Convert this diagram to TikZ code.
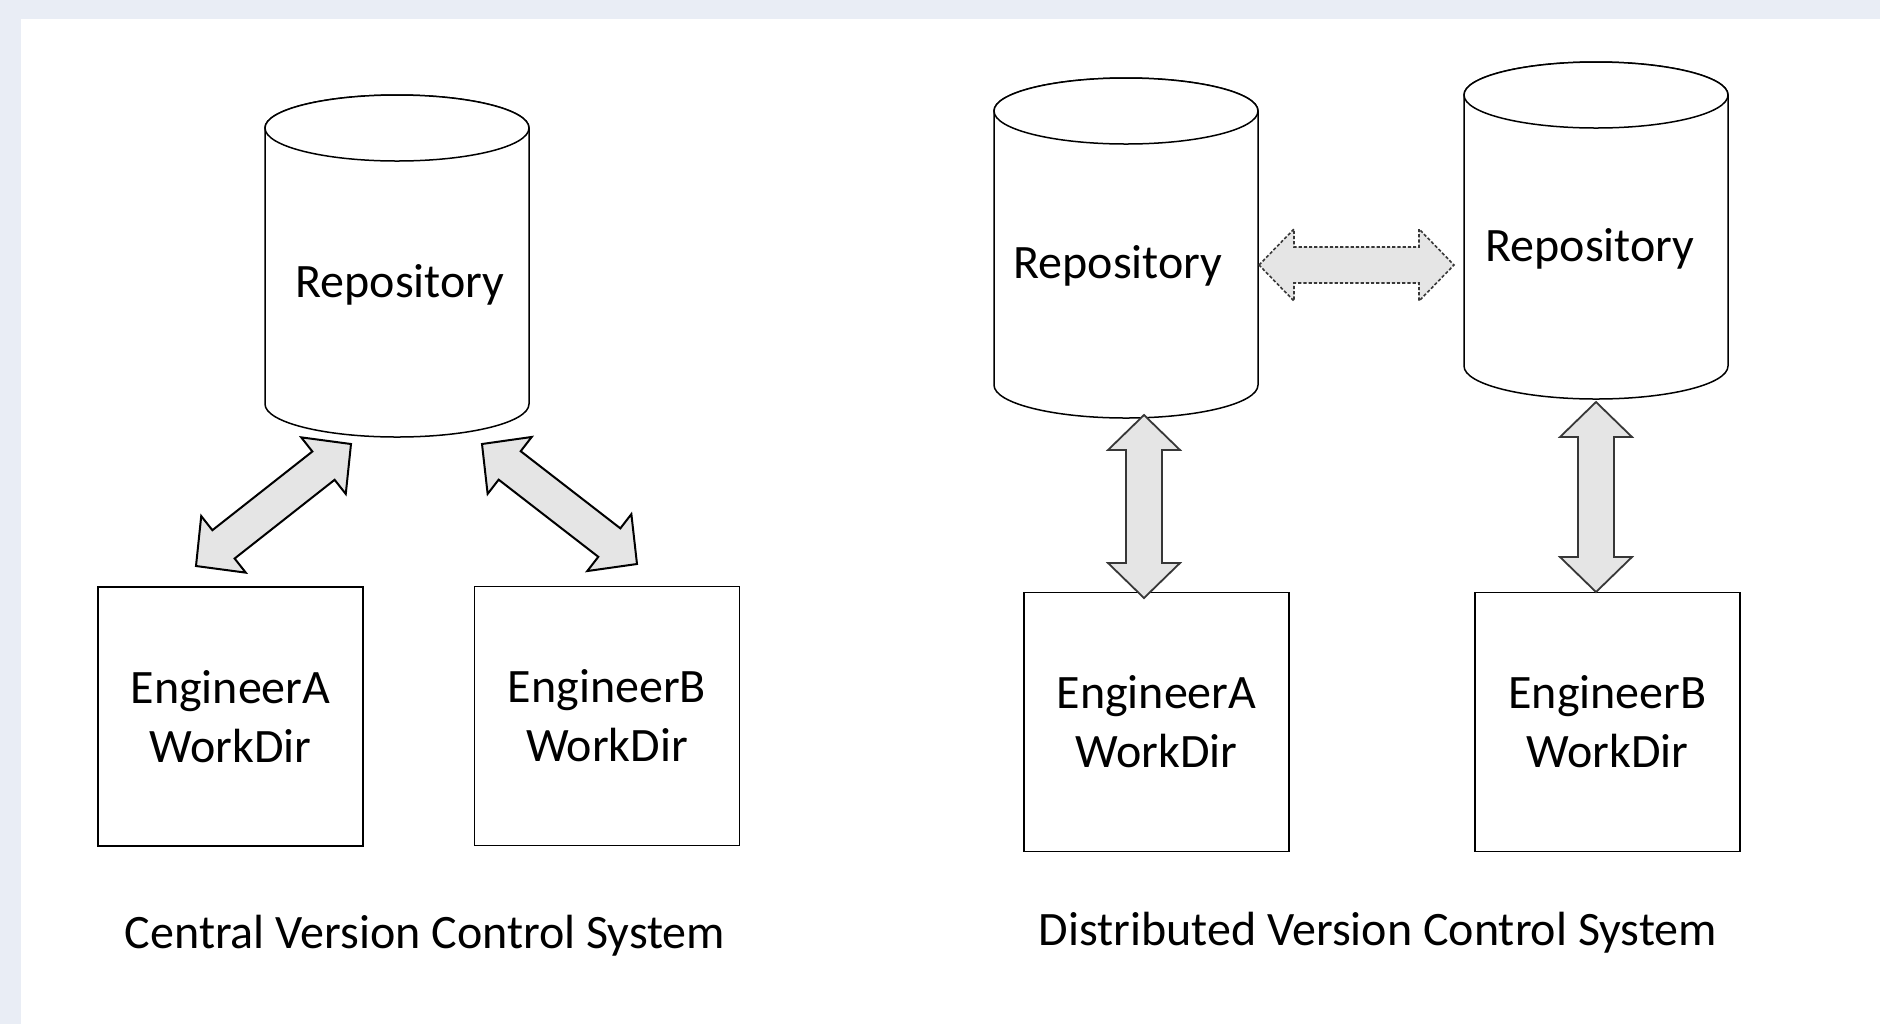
\documentclass[tikz,border=0pt]{standalone}
\usepackage{fontspec}
\setmainfont{Carlito}
\usetikzlibrary{calc}

\definecolor{pagebg}{RGB}{233,237,245}
\definecolor{arrowfill}{RGB}{229,229,229}
\definecolor{arrowedge}{RGB}{55,55,55}

\tikzset{
  repo/.style={rectangle, minimum width=132pt, inner sep=0pt, outer sep=0pt},
  cylline/.style={draw=black, line width=0.75pt, fill=white},
  reponame/.style={font=\fontsize{24}{29}\selectfont, anchor=base, inner sep=0pt},
  workdir/.style={draw=black, line width=0.85pt, fill=white,
    minimum width=132.5pt, minimum height=129.5pt, inner sep=0pt,
    align=center, font=\fontsize{24}{29.5}\selectfont},
  caption/.style={font=\fontsize{24}{29}\selectfont, anchor=base, inner sep=0pt},
  blockarrow/.style={fill=arrowfill, draw=black, line width=1pt, line join=miter},
  softarrow/.style={blockarrow, draw=arrowedge, line width=0.9pt},
  syncarrow/.style={blockarrow, draw=arrowedge, line width=0.8pt,
    dash pattern=on 1.6pt off 1pt}
}

% cylinder outline around an (empty) node that fixes its extent
\newcommand\cylinderat[1]{%
  \path[cylline] ($(#1.north west)+(0,33)$) -- ($(#1.south west)+(0,-33)$)
    arc[start angle=180, end angle=360, x radius=66pt, y radius=16.5pt]
    -- ($(#1.north east)+(0,33)$)
    arc[start angle=0, end angle=180, x radius=66pt, y radius=16.5pt] -- cycle;
  \draw[cylline] ($(#1.north)+(0,33)$) ellipse[x radius=66pt, y radius=16.5pt];}

% two-headed block arrow between two tips
\newcommand\dblarrow[3][]{%
  \coordinate (ha) at ($(#2)!17.5pt!(#3)$);
  \coordinate (hb) at ($(#3)!17.5pt!(#2)$);
  \path[blockarrow,#1] (#2)
    -- ($(ha)!18pt!90:(#3)$) -- ($(ha)!9pt!90:(#3)$)
    -- ($(hb)!9pt!-90:(#2)$) -- ($(hb)!18pt!-90:(#2)$)
    -- (#3)
    -- ($(hb)!18pt!90:(#2)$) -- ($(hb)!9pt!90:(#2)$)
    -- ($(ha)!9pt!-90:(#3)$) -- ($(ha)!18pt!-90:(#3)$) -- cycle;}

\begin{document}
\begin{tikzpicture}[x=0.5pt, y=-0.5pt]
  % page
  \fill[pagebg] (0,0) rectangle (1880,1024);
  \fill[white] (21,19) rectangle (1880,1024);
  \useasboundingbox (0,0) rectangle (1880,1024);

  % ---- central version control ----
  \node[repo, minimum height=171pt] (cRepo) at (397,266) {};
  \cylinderat{cRepo}
  \node[reponame] (cRepoName) at (400,297) {Repository};

  \node[workdir] (cEngA) at (230.5,716.5) {EngineerA\\WorkDir};
  \node[workdir] (cEngB) at (607,716) {EngineerB\\WorkDir};

  \coordinate (cA1) at (351,444);
  \coordinate (cA2) at (196,566);
  \coordinate (cB1) at (482,444);
  \coordinate (cB2) at (637,564);
  \dblarrow{cA1}{cA2}
  \dblarrow{cB1}{cB2}

  \node[caption] (cCap) at (425,948) {Central Version Control System};

  % ---- distributed version control ----
  \node[repo, minimum height=170pt] (dRepoA) at (1126,248) {};
  \cylinderat{dRepoA}
  \node[reponame] (dRepoAName) at (1118,278) {Repository};

  \node[repo, minimum height=168.5pt] (dRepoB) at (1596,230.5) {};
  \cylinderat{dRepoB}
  \node[reponame] (dRepoBName) at (1590,261) {Repository};

  \node[workdir] (dEngA) at (1156.5,722) {EngineerA\\WorkDir};
  \node[workdir] (dEngB) at (1607.5,722) {EngineerB\\WorkDir};

  \coordinate (dS1) at (1259,265);
  \coordinate (dS2) at (1454,265);
  \dblarrow[syncarrow]{dS1}{dS2}

  \coordinate (dA1) at (1144,415);
  \coordinate (dA2) at (1144,598);
  \dblarrow[softarrow]{dA1}{dA2}

  \coordinate (dB1) at (1596,402);
  \coordinate (dB2) at (1596,592);
  \dblarrow[softarrow]{dB1}{dB2}

  \node[caption] (dCap) at (1378,945) {Distributed Version Control System};
\end{tikzpicture}
\end{document}
